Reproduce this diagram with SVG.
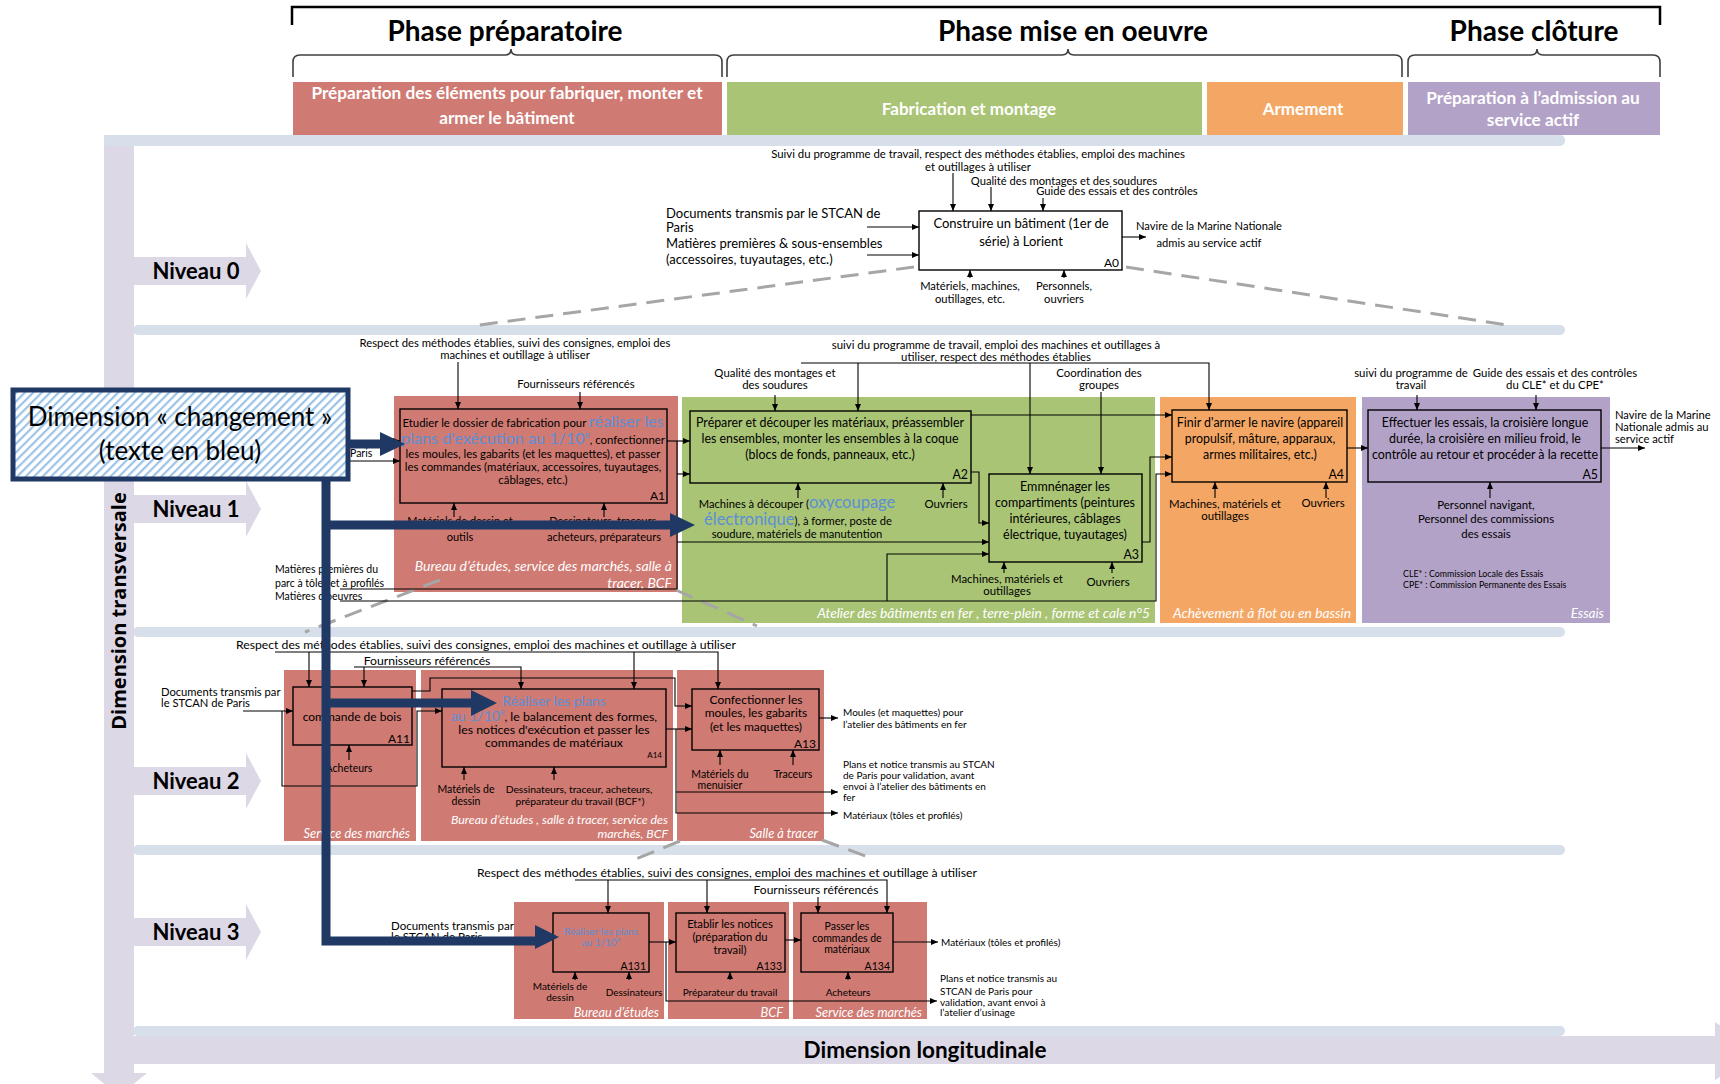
<svg xmlns="http://www.w3.org/2000/svg" width="1720" height="1084" viewBox="0 0 1720 1084">
<defs>
<style>
text{font-family:Lato,"Liberation Sans",sans-serif;fill:#000}
.b{font-weight:bold}
.m{text-anchor:middle}
.e{text-anchor:end}
.w{fill:#fff}
.i{font-style:italic;fill:#fff;text-anchor:end}
.bl{fill:#5b8fd6}
.bx{fill:none;stroke:#000;stroke-width:1.4}
.ln{fill:none;stroke:#000;stroke-width:1.1}
.ar{fill:none;stroke:#000;stroke-width:1.1;marker-end:url(#ah)}
.dash{stroke:#a6a6a6;stroke-width:3;stroke-dasharray:18 10;fill:none}
.band{fill:#d6dfea}
.dim{fill:#ddd8e6}
.nv{stroke:#1f3864;stroke-width:9;fill:none}
.nvh{fill:#1f3864}
.brace{fill:none;stroke:#404040;stroke-width:1.6}
.red{fill:#cf7a72}
.grn{fill:#a9c475}
.org{fill:#f4a765}
.pur{fill:#b3a2c7}
</style>
<marker id="ah" viewBox="0 0 7 6" refX="7" refY="3" markerWidth="7" markerHeight="6" markerUnits="userSpaceOnUse" orient="auto"><path d="M0,0 L7,3 L0,6 z" fill="#000"/></marker>
<pattern id="hatch" width="6" height="6" patternUnits="userSpaceOnUse" patternTransform="rotate(45)"><rect width="6" height="6" fill="#fff"/><line x1="1" y1="0" x2="1" y2="6" stroke="#9dc3e6" stroke-width="2.4"/></pattern>
</defs>
<rect width="1720" height="1084" fill="#fff"/>

<!-- phase headers -->
<g id="phases">
<path d="M292,25 V7 H1660 V25" fill="none" stroke="#000" stroke-width="2.5"/>
<text x="505" y="41" class="b m" font-size="28">Phase préparatoire</text>
<text x="1073" y="41" class="b m" font-size="28">Phase mise en oeuvre</text>
<text x="1534" y="41" class="b m" font-size="28">Phase clôture</text>
<path class="brace" d="M293,77 V62 Q293,55 300,55 H505 Q511,55 511,49 Q511,55 517,55 H715 Q722,55 722,62 V77"/>
<path class="brace" d="M727,77 V62 Q727,55 734,55 H1062 Q1068,55 1068,49 Q1068,55 1074,55 H1395 Q1402,55 1402,62 V77"/>
<path class="brace" d="M1408,77 V62 Q1408,55 1415,55 H1531 Q1537,55 1537,49 Q1537,55 1543,55 H1653 Q1660,55 1660,62 V77"/>
<rect x="293" y="82" width="429" height="53" class="red"/>
<rect x="727" y="82" width="475" height="53" class="grn"/>
<rect x="1207" y="82" width="196" height="53" class="org"/>
<rect x="1408" y="82" width="252" height="53" class="pur"/>
<text x="507" y="99" class="b m w" font-size="17.2">Préparation des éléments pour fabriquer, monter et</text>
<text x="507" y="124" class="b m w" font-size="17.2">armer le bâtiment</text>
<text x="969" y="115" class="b m w" font-size="17">Fabrication et montage</text>
<text x="1303" y="115" class="b m w" font-size="17">Armement</text>
<text x="1533" y="104" class="b m w" font-size="17.2">Préparation à l’admission au</text>
<text x="1533" y="126" class="b m w" font-size="17.2">service actif</text>
</g>

<!-- axes and level bands -->
<g id="axes">
<rect x="104" y="135" width="30" height="940" class="dim"/>
<polygon points="91,1073 147,1073 119,1096" class="dim"/>
<rect x="104" y="1036" width="1612" height="28" class="dim"/>
<polygon points="1715,1022 1715,1080 1760,1051" class="dim"/>
<rect x="104" y="135" width="1461" height="11" rx="5" class="band"/>
<rect x="133" y="325" width="1432" height="10" rx="5" class="band"/>
<rect x="133" y="627" width="1432" height="10" rx="5" class="band"/>
<rect x="133" y="845" width="1432" height="10" rx="5" class="band"/>
<rect x="133" y="1026" width="1432" height="10" rx="5" class="band"/>
<text transform="translate(126,611) rotate(-90)" class="b m" font-size="20" style="font-family:'Open Sans','Liberation Sans',sans-serif">Dimension transversale</text>
<text x="925" y="1058" class="b m" font-size="22.5">Dimension longitudinale</text>
<polygon points="133,257 246,257 246,243 261,271 246,299 246,285 133,285" class="dim"/>
<polygon points="133,495 246,495 246,481 261,509 246,537 246,523 133,523" class="dim"/>
<polygon points="133,767 246,767 246,753 261,781 246,809 246,795 133,795" class="dim"/>
<polygon points="133,918 246,918 246,904 261,932 246,960 246,946 133,946" class="dim"/>
<text x="196" y="279" class="b m" font-size="22">Niveau 0</text>
<text x="196" y="517" class="b m" font-size="22">Niveau 1</text>
<text x="196" y="789" class="b m" font-size="22">Niveau 2</text>
<text x="196" y="940" class="b m" font-size="22">Niveau 3</text>
</g>

<!-- service areas behind the activity boxes -->
<g id="areas">
<rect x="394" y="396" width="284" height="196" class="red"/>
<rect x="682" y="397" width="473" height="226" class="grn"/>
<rect x="1160" y="397" width="196" height="226" class="org"/>
<rect x="1362" y="397" width="248" height="226" class="pur"/>
<text x="672" y="571" class="i" font-size="14">Bureau d’études, service des marchés, salle à</text>
<text x="672" y="588" class="i" font-size="14">tracer, BCF</text>
<text x="1150" y="618" class="i" font-size="13.8">Atelier des bâtiments en fer , terre-plein , forme et cale n°5</text>
<text x="1351" y="618" class="i" font-size="13.8">Achèvement à flot ou en bassin</text>
<text x="1604" y="618" class="i" font-size="13.5">Essais</text>
<rect x="284" y="670" width="132" height="171" class="red"/>
<rect x="421" y="670" width="252" height="171" class="red"/>
<rect x="677" y="670" width="147" height="171" class="red"/>
<text x="410" y="838" class="i" font-size="12.8">Service des marchés</text>
<text x="668" y="824" class="i" font-size="12.4">Bureau d’études , salle à tracer, service des</text>
<text x="668" y="838" class="i" font-size="12.4">marchés, BCF</text>
<text x="818" y="838" class="i" font-size="12.8">Salle à tracer</text>
<rect x="514" y="902" width="150" height="117" class="red"/>
<rect x="668" y="902" width="121" height="117" class="red"/>
<rect x="793" y="902" width="134" height="117" class="red"/>
<text x="659" y="1017" class="i" font-size="12.8">Bureau d’études</text>
<text x="783" y="1017" class="i" font-size="12.8">BCF</text>
<text x="922" y="1017" class="i" font-size="12.8">Service des marchés</text>
</g>

<!-- decomposition guides between levels -->
<g id="guides">
<path class="dash" d="M914,267 L472,326"/>
<path class="dash" d="M1126,267 L1507,325"/>
<path class="dash" d="M440,580 L305,632"/>
<path class="dash" d="M676,590 L757,626"/>
<path class="dash" d="M680,841 L636,859"/>
<path class="dash" d="M822,840 L868,857"/>
</g>

<!-- connectors -->
<g id="connectors">
<!-- level 0 -->
<path class="ar" d="M867,227 H919"/>
<path class="ar" d="M867,255 H919"/>
<path class="ar" d="M953,173 V211"/>
<path class="ar" d="M991,187 V211"/>
<path class="ar" d="M1043,198 V211"/>
<path class="ar" d="M970,278 V270"/>
<path class="ar" d="M1064,278 V270"/>
<path class="ar" d="M1122,237 H1146"/>
<!-- level 1 -->
<path class="ar" d="M350,441 H400"/>
<path class="ar" d="M350,461 H400"/>
<path class="ar" d="M458,362 V409"/>
<path class="ar" d="M580,392 V409"/>
<path class="ar" d="M454,517 V503"/>
<path class="ar" d="M604,517 V503"/>
<path class="ar" d="M667,441 H690"/>
<path class="ln" d="M677,441 V589"/>
<path class="ar" d="M677,474 H690"/>
<path class="ar" d="M677,542 H989"/>
<path class="ln" d="M340,589 H677"/>
<path class="ar" d="M340,601 H1156 V474 H1172"/>
<path class="ar" d="M887,601 V554 H989"/>
<path class="ar" d="M775,395 V411"/>
<path class="ar" d="M801,363 H1209 V410"/>
<path class="ar" d="M858,363 V411"/>
<path class="ar" d="M1030,363 V474"/>
<path class="ar" d="M1101,392 V474"/>
<path class="ar" d="M798,498 V483"/>
<path class="ar" d="M943,498 V483"/>
<path class="ar" d="M971,415 H1172"/>
<path class="ar" d="M971,472 H979 V523 H989"/>
<path class="ar" d="M1004,573 V562"/>
<path class="ar" d="M1112,573 V562"/>
<path class="ar" d="M1142,542 H1150 V457 H1172"/>
<path class="ar" d="M1215,498 V482"/>
<path class="ar" d="M1326,498 V482"/>
<path class="ar" d="M1347,448 H1368"/>
<path class="ar" d="M1417,395 V410"/>
<path class="ar" d="M1536,395 V410"/>
<path class="ar" d="M1490,498 V482"/>
<path class="ar" d="M1601,448 H1645"/>
<!-- level 2 -->
<path class="ar" d="M243,711 H293"/>
<path class="ar" d="M282,711 V786 H417 V711 H442"/>
<path class="ar" d="M275,652 H718 V689"/>
<path class="ar" d="M309,652 V687"/>
<path class="ar" d="M634,652 V689"/>
<path class="ar" d="M354,667 H521 V689"/>
<path class="ar" d="M364,667 V687"/>
<path class="ar" d="M349,760 V745"/>
<path class="ar" d="M412,691 H430 V678 H675 V706 H692"/>
<path class="ar" d="M464,780 V767"/>
<path class="ar" d="M554,780 V767"/>
<path class="ar" d="M666,729 H692"/>
<path class="ar" d="M676,729 V813 H838"/>
<path class="ar" d="M676,792 H838"/>
<path class="ar" d="M720,765 V750"/>
<path class="ar" d="M793,765 V750"/>
<path class="ar" d="M819,718 H838"/>
<!-- level 3 -->
<path class="ar" d="M511,938 H553"/>
<path class="ar" d="M575,880 H887 V913"/>
<path class="ar" d="M608,880 V913"/>
<path class="ar" d="M707,880 V913"/>
<path class="ar" d="M818,897 V913"/>
<path class="ar" d="M575,980 V972"/>
<path class="ar" d="M629,980 V972"/>
<path class="ar" d="M730,980 V972"/>
<path class="ar" d="M848,980 V972"/>
<path class="ar" d="M649,942 H676"/>
<path class="ar" d="M666,942 V1001 H937"/>
<path class="ar" d="M785,940 H801"/>
<path class="ar" d="M893,942 H938"/>
</g>

<!-- level 0 -->
<g id="A0">
<rect x="919" y="211" width="203" height="59" class="bx"/>
<text x="1021" y="228" class="m" font-size="13">Construire un bâtiment (1er de</text>
<text x="1021" y="246" class="m" font-size="13">série) à Lorient</text>
<text x="1119" y="267" class="e" font-size="12">A0</text>
<text x="666" y="218" font-size="13">Documents transmis par le STCAN de</text>
<text x="666" y="232" font-size="13">Paris</text>
<text x="666" y="248" font-size="13">Matières premières &amp; sous-ensembles</text>
<text x="666" y="264" font-size="13">(accessoires,  tuyautages, etc.)</text>
<text x="978" y="158" class="m" font-size="11.4">Suivi du programme de travail, respect des méthodes établies, emploi des machines</text>
<text x="978" y="171" class="m" font-size="11.4">et outillages à utiliser</text>
<text x="1064" y="185" class="m" font-size="11.2">Qualité des montages et des soudures</text>
<text x="1117" y="195" class="m" font-size="11.2">Guide des essais et des contrôles</text>
<text x="970" y="290" class="m" font-size="11.2">Matériels, machines,</text>
<text x="970" y="303" class="m" font-size="11.2">outillages, etc.</text>
<text x="1064" y="290" class="m" font-size="11.2">Personnels,</text>
<text x="1064" y="303" class="m" font-size="11.2">ouvriers</text>
<text x="1209" y="230" class="m" font-size="11.2">Navire de la Marine Nationale</text>
<text x="1209" y="247" class="m" font-size="11.2">admis au service actif</text>
</g>

<!-- level 1 -->
<g id="A1">
<rect x="400" y="409" width="267" height="94" class="bx"/>
<text x="533" y="427" class="m" font-size="11.4">Etudier le dossier de fabrication pour <tspan class="bl" font-size="16.2">réaliser les</tspan></text>
<text x="533" y="444" class="m" font-size="11.4"><tspan class="bl" font-size="16.2">plans d'exécution au 1/10</tspan><tspan class="bl" font-size="9.5" dy="-6">e</tspan><tspan dy="6">, confectionner</tspan></text>
<text x="533" y="458" class="m" font-size="11.4">les moules, les gabarits (et les maquettes), et passer</text>
<text x="533" y="471" class="m" font-size="11.4">les commandes (matériaux, accessoires, tuyautages,</text>
<text x="533" y="484" class="m" font-size="11.4">câblages, etc.)</text>
<text x="665" y="500" class="e" font-size="12">A1</text>
<text x="515" y="347" class="m" font-size="11.3">Respect des méthodes établies, suivi des consignes, emploi des</text>
<text x="515" y="359" class="m" font-size="11.3">machines et outillage à utiliser</text>
<text x="576" y="388" class="m" font-size="11.3">Fournisseurs référencés</text>
<text x="350" y="457" font-size="10.5">Paris</text>
<text x="460" y="525" class="m" font-size="11">Matériels de dessin et</text>
<text x="460" y="541" class="m" font-size="11">outils</text>
<text x="604" y="525" class="m" font-size="11">Dessinateurs, traceurs,</text>
<text x="604" y="541" class="m" font-size="11">acheteurs, préparateurs</text>
<text x="275" y="573" font-size="10.5">Matières premières du</text>
<text x="275" y="587" font-size="10.5">parc à tôles et à profilés</text>
<text x="275" y="600" font-size="10.5">Matières d’oeuvres</text>
</g>
<g id="A2">
<rect x="690" y="411" width="281" height="72" class="bx"/>
<text x="830" y="427" class="m" font-size="12.4">Préparer et découper les matériaux, préassembler</text>
<text x="830" y="443" class="m" font-size="12.4">les ensembles, monter les ensembles à la coque</text>
<text x="830" y="459" class="m" font-size="12.4">(blocs de fonds, panneaux, etc.)</text>
<text x="968" y="479" class="e" font-size="12.4">A2</text>
<text x="775" y="377" class="m" font-size="11.4">Qualité des montages et</text>
<text x="775" y="389" class="m" font-size="11.4">des soudures</text>
<text x="996" y="349" class="m" font-size="11.4">suivi du programme de travail, emploi des machines et outillages à</text>
<text x="996" y="361" class="m" font-size="11.4">utiliser, respect des méthodes établies</text>
<text x="797" y="508" class="m" font-size="11.2">Machines à découper (<tspan class="bl" font-size="16.5">oxycoupage</tspan></text>
<text x="798" y="525" class="m" font-size="11.2"><tspan class="bl" font-size="16.5">électronique</tspan>), à former, poste de</text>
<text x="797" y="538" class="m" font-size="11.2">soudure, matériels de manutention</text>
<text x="946" y="508" class="m" font-size="11.4">Ouvriers</text>
</g>
<g id="A3">
<rect x="989" y="474" width="153" height="88" class="bx"/>
<text x="1065" y="491" class="m" font-size="12.5">Emmnénager les</text>
<text x="1065" y="507" class="m" font-size="12.5">compartiments (peintures</text>
<text x="1065" y="523" class="m" font-size="12.5">intérieures, câblages</text>
<text x="1065" y="539" class="m" font-size="12.5">électrique, tuyautages)</text>
<text x="1139" y="559" class="e" font-size="12.4">A3</text>
<text x="1099" y="377" class="m" font-size="11.4">Coordination des</text>
<text x="1099" y="389" class="m" font-size="11.4">groupes</text>
<text x="1007" y="583" class="m" font-size="11.4">Machines, matériels et</text>
<text x="1007" y="595" class="m" font-size="11.4">outillages</text>
<text x="1108" y="586" class="m" font-size="11.4">Ouvriers</text>
</g>
<g id="A4">
<rect x="1172" y="410" width="175" height="72" class="bx"/>
<text x="1260" y="427" class="m" font-size="12.4">Finir d'armer le navire (appareil</text>
<text x="1260" y="443" class="m" font-size="12.4">propulsif, mâture, apparaux,</text>
<text x="1260" y="459" class="m" font-size="12.4">armes militaires, etc.)</text>
<text x="1344" y="479" class="e" font-size="12.4">A4</text>
<text x="1225" y="508" class="m" font-size="11.4">Machines, matériels et</text>
<text x="1225" y="520" class="m" font-size="11.4">outillages</text>
<text x="1323" y="507" class="m" font-size="11.4">Ouvriers</text>
</g>
<g id="A5">
<rect x="1368" y="410" width="233" height="72" class="bx"/>
<text x="1485" y="427" class="m" font-size="12.4">Effectuer les essais, la croisière longue</text>
<text x="1485" y="443" class="m" font-size="12.4">durée, la croisière en milieu froid, le</text>
<text x="1485" y="459" class="m" font-size="12.4">contrôle au retour et procéder à la recette</text>
<text x="1598" y="479" class="e" font-size="12.4">A5</text>
<text x="1411" y="377" class="m" font-size="11.4">suivi du programme de</text>
<text x="1411" y="389" class="m" font-size="11.4">travail</text>
<text x="1555" y="377" class="m" font-size="11.4">Guide des essais et des contrôles</text>
<text x="1555" y="389" class="m" font-size="11.4">du CLE* et du CPE*</text>
<text x="1486" y="509" class="m" font-size="11.4">Personnel navigant,</text>
<text x="1486" y="523" class="m" font-size="11.4">Personnel des commissions</text>
<text x="1486" y="538" class="m" font-size="11.4">des essais</text>
<text x="1403" y="577" font-size="8.8">CLE* : Commission Locale des Essais</text>
<text x="1403" y="588" font-size="8.8">CPE* : Commission Permanente des Essais</text>
<text x="1615" y="419" font-size="11.2">Navire de la Marine</text>
<text x="1615" y="431" font-size="11.2">Nationale admis au</text>
<text x="1615" y="443" font-size="11.2">service actif</text>
</g>

<!-- level 2 -->
<g id="A11">
<rect x="293" y="687" width="119" height="58" class="bx"/>
<text x="352" y="721" class="m" font-size="12">commande de bois</text>
<text x="410" y="743" class="e" font-size="12">A11</text>
<text x="161" y="696" font-size="11.2">Documents transmis par</text>
<text x="161" y="707" font-size="11.2">le STCAN de Paris</text>
<text x="486" y="649" class="m" font-size="12.2">Respect des méthodes établies, suivi des consignes, emploi des machines et outillage à utiliser</text>
<text x="427" y="665" class="m" font-size="12.2">Fournisseurs référencés</text>
<text x="349" y="772" class="m" font-size="10.5">Acheteurs</text>
</g>
<g id="A14">
<rect x="442" y="689" width="224" height="78" class="bx"/>
<text x="554" y="706" class="m bl" font-size="14">Réaliser les plans</text>
<text x="554" y="721" class="m" font-size="12.3"><tspan class="bl" font-size="14">au 1/10</tspan><tspan class="bl" font-size="8.5" dy="-6">e</tspan><tspan dy="6">, le balancement des formes,</tspan></text>
<text x="554" y="734" class="m" font-size="12.3">les notices d'exécution et passer les</text>
<text x="554" y="747" class="m" font-size="12.3">commandes de matériaux</text>
<text x="662" y="758" class="e" font-size="8">A14</text>
<text x="466" y="793" class="m" font-size="10.5">Matériels de</text>
<text x="466" y="805" class="m" font-size="10.5">dessin</text>
<text x="579" y="793" class="m" font-size="10.3">Dessinateurs, traceur, acheteurs,</text>
<text x="580" y="805" class="m" font-size="10.3">préparateur du travail (BCF*)</text>
</g>
<g id="A13">
<rect x="692" y="689" width="127" height="61" class="bx"/>
<text x="756" y="704" class="m" font-size="12">Confectionner les</text>
<text x="756" y="717" class="m" font-size="12">moules, les gabarits</text>
<text x="756" y="731" class="m" font-size="12">(et les maquettes)</text>
<text x="816" y="748" class="e" font-size="12">A13</text>
<text x="720" y="778" class="m" font-size="10.5">Matériels du</text>
<text x="720" y="789" class="m" font-size="10.5">menuisier</text>
<text x="793" y="778" class="m" font-size="10.5">Traceurs</text>
<text x="843" y="716" font-size="10">Moules (et maquettes) pour</text>
<text x="843" y="728" font-size="10">l’atelier des bâtiments en fer</text>
<text x="843" y="768" font-size="10">Plans et notice transmis au STCAN</text>
<text x="843" y="779" font-size="10">de Paris pour validation, avant</text>
<text x="843" y="790" font-size="10">envoi à l’atelier des bâtiments en</text>
<text x="843" y="801" font-size="10">fer</text>
<text x="843" y="819" font-size="10">Matériaux (tôles et profilés)</text>
</g>

<!-- level 3 -->
<g id="A131">
<rect x="553" y="913" width="96" height="59" class="bx"/>
<text x="601" y="935" class="m bl" font-size="10">Réaliser les plans</text>
<text x="601" y="946" class="m bl" font-size="10">au 1/10<tspan font-size="7" dy="-4">e</tspan></text>
<text x="646" y="970" class="e" font-size="10.5">A131</text>
<text x="391" y="930" font-size="11.5">Documents transmis par</text>
<text x="391" y="941" font-size="11.5">le STCAN de Paris</text>
<text x="727" y="877" class="m" font-size="12.2">Respect des méthodes établies, suivi des consignes, emploi des machines et outillage à utiliser</text>
<text x="816" y="894" class="m" font-size="12">Fournisseurs référencés</text>
<text x="560" y="990" class="m" font-size="10">Matériels de</text>
<text x="560" y="1001" class="m" font-size="10">dessin</text>
<text x="634" y="996" class="m" font-size="10">Dessinateurs</text>
</g>
<g id="A133">
<rect x="676" y="913" width="109" height="59" class="bx"/>
<text x="730" y="928" class="m" font-size="11.2">Etablir les notices</text>
<text x="730" y="941" class="m" font-size="11.2">(préparation du</text>
<text x="730" y="954" class="m" font-size="11.2">travail)</text>
<text x="782" y="970" class="e" font-size="10.5">A133</text>
<text x="730" y="996" class="m" font-size="10">Préparateur du travail</text>
</g>
<g id="A134">
<rect x="801" y="913" width="92" height="59" class="bx"/>
<text x="847" y="930" class="m" font-size="10.5">Passer les</text>
<text x="847" y="942" class="m" font-size="10.5">commandes de</text>
<text x="847" y="953" class="m" font-size="10.5">matériaux</text>
<text x="890" y="970" class="e" font-size="10.5">A134</text>
<text x="848" y="996" class="m" font-size="10">Acheteurs</text>
<text x="941" y="946" font-size="10">Matériaux (tôles et profilés)</text>
<text x="940" y="982" font-size="10">Plans et notice transmis au</text>
<text x="940" y="995" font-size="10">STCAN de Paris pour</text>
<text x="940" y="1006" font-size="10">validation, avant envoi à</text>
<text x="940" y="1016" font-size="10">l’atelier d’usinage</text>
</g>

<!-- change dimension callout and its arrows -->
<g id="changement">
<path class="nv" d="M326,479 V941 H537"/>
<path class="nv" d="M322,525 H672"/>
<path class="nv" d="M322,703 H473"/>
<path class="nv" d="M348,444 H382"/>
<polygon class="nvh" points="380,432 380,456 405,444"/>
<polygon class="nvh" points="670,513 670,537 695,525"/>
<polygon class="nvh" points="471,690 471,716 497,703"/>
<polygon class="nvh" points="535,925 535,949 559,937"/>
<rect x="13" y="390" width="335" height="89" fill="url(#hatch)" stroke="#1f3864" stroke-width="5"/>
<text x="180" y="426" class="m" font-size="26" fill="#222">Dimension « changement »</text>
<text x="180" y="460" class="m" font-size="26" fill="#222">(texte en bleu)</text>
</g>
</svg>
